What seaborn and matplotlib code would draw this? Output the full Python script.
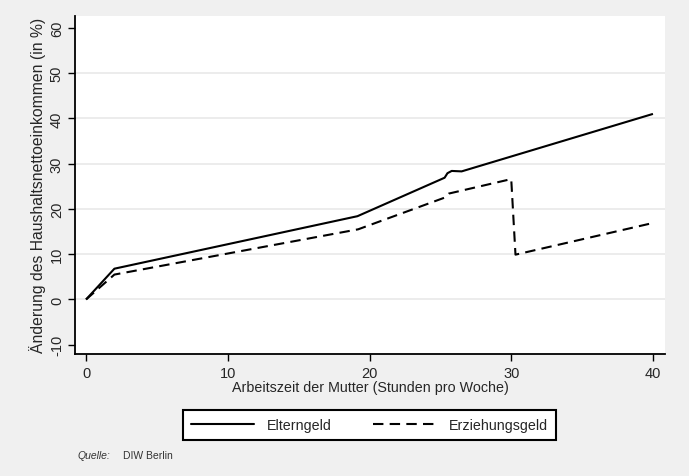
import pandas as pd
import matplotlib.pyplot as plt
import seaborn as sns

# values
elterngeld_x = [0, 2.0, 19.15, 25.3, 25.5, 25.8, 26.5, 40]
elterngeld_y = [0, 6.8, 18.4, 26.9, 27.9, 28.4, 28.3, 41.0]
erziehung_x = [0, 2.0, 19.2, 25.3, 25.6, 30.0, 30.3, 40]
erziehung_y = [0, 5.5, 15.5, 22.5, 23.4, 26.6, 9.9, 16.9]
yticks = [-10, 0, 10, 20, 30, 40, 50, 60]
xticks = [0, 10, 20, 30, 40]

df = pd.concat([
    pd.DataFrame({'x': elterngeld_x, 'y': elterngeld_y, 'serie': 'Elterngeld'}),
    pd.DataFrame({'x': erziehung_x, 'y': erziehung_y, 'serie': 'Erziehungsgeld'}),
])

sns.set_style('white')
plt.rcParams['font.family'] = ['Liberation Sans', 'DejaVu Sans']

fig = plt.figure(figsize=(6.89, 4.77), dpi=100, facecolor='#f0f0f0')
ax = fig.add_axes([75/689, 1-355/477, 590/689, 338.3/477])
ax.set_facecolor('white')

sns.lineplot(data=df, x='x', y='y', style='serie', sort=False, color='black',
             linewidth=1.5, dashes=[(1, 0), (5, 3)], ax=ax, legend=False)

ax.set_xlim(-0.78, 40.85)
ax.set_ylim(-12.05, 62.7)
ax.set_xticks(xticks)
ax.set_yticks(yticks)
ax.set_yticklabels([str(t) for t in yticks], rotation=90, va='center')
for t in yticks[1:-1]:
    ax.axhline(t, color='#eaeaea', lw=1.3, zorder=0)
ax.tick_params(axis='both', direction='out', length=5, width=1, color='black',
               labelsize=10.5, pad=3, left=True, bottom=True)
ax.tick_params(axis='x', pad=4)
for s in ['top', 'right']:
    ax.spines[s].set_visible(False)
for s in ['left', 'bottom']:
    ax.spines[s].set_color('black')
    ax.spines[s].set_linewidth(1.3)

ax.set_xlabel('Arbeitszeit der Mutter (Stunden pro Woche)', fontsize=10.3, labelpad=0)
ax.set_ylabel('Änderung des Haushaltsnettoeinkommen (in %)', fontsize=11.3, labelpad=3)

handles = [plt.Line2D([], [], color='black', lw=1.5),
           plt.Line2D([], [], color='black', lw=1.5, dashes=(5, 3))]
leg = fig.legend(handles, ['Elterngeld', 'Erziehungsgeld'], ncol=2,
                 loc='center', bbox_to_anchor=(369.5/689, 1-426/477),
                 fontsize=10.3, handlelength=4.4, handletextpad=0.9,
                 columnspacing=2.9, borderpad=0.55, borderaxespad=0,
                 fancybox=False, framealpha=1, edgecolor='black')
leg.get_frame().set_linewidth(1.5)

fig.text(77/689, 1-456/477, 'Quelle:', style='italic', fontsize=7.5, color='#333333', va='center')
fig.text(123/689, 1-456/477, 'DIW Berlin', fontsize=7.5, color='#333333', va='center')

plt.savefig('out.png', dpi=100, facecolor=fig.get_facecolor())
plt.close()
